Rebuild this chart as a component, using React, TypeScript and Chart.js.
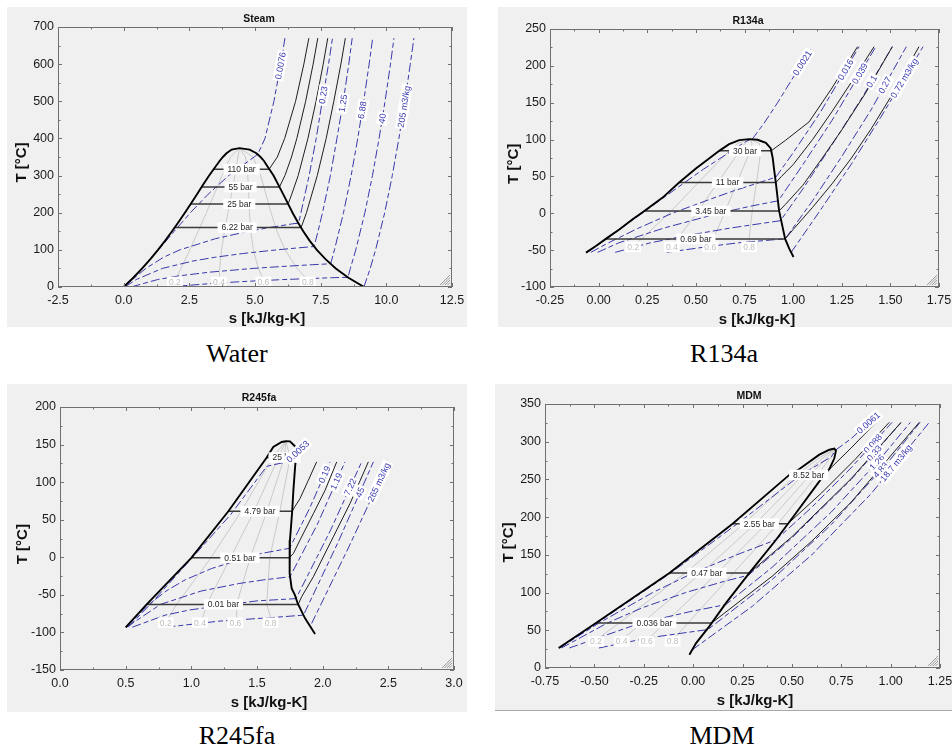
import React, { useEffect, useRef } from 'react';
import { Chart, registerables } from 'chart.js';

Chart.register(...registerables);

type Pt = [number, number];

const FONT = '"Liberation Sans", Arial, Helvetica, sans-serif';

/* ================= Steam (Water) ================= */
const steamDome: Pt[] = [
  [0, 0.01], [0.367, 25], [0.704, 50], [1.016, 75], [1.307, 100], [1.581, 125], [1.842, 150],
  [2.091, 175], [2.331, 200], [2.564, 225], [2.793, 250], [3.021, 275], [3.255, 300], [3.508, 325],
  [3.659, 340], [3.778, 350], [3.915, 360], [4.111, 370], [4.407, 373.95], [4.797, 370], [5.053, 360],
  [5.211, 350], [5.336, 340], [5.471, 325], [5.705, 300], [5.891, 275], [6.072, 250], [6.25, 225],
  [6.43, 200], [6.624, 175], [6.837, 150], [7.078, 125], [7.354, 100], [7.684, 75], [8.075, 50],
  [8.557, 25], [9.155, 0.01],
];
const steamSatT = [317, 269, 223.5, 160];
const steamSatLiq = [3.433, 2.969, 2.548, 1.94];
const steamSatVap = [5.537, 5.93, 6.262, 6.756];
const steamSatText = ['110 bar', '55 bar', '25 bar', '6.22 bar'];
const steamSatAt = [4.49, 4.45, 4.4, 4.32];
const steamP110: Pt[] = [[5.537, 317], [5.85, 350], [6.13, 400], [6.545, 500], [6.86, 600], [7.05, 670]];
const steamP55: Pt[] = [[5.93, 269], [6.138, 300], [6.39, 350], [6.593, 400], [6.928, 500], [7.213, 600], [7.39, 670]];
const steamP25: Pt[] = [[6.262, 223.5], [6.4, 250], [6.644, 300], [7.015, 400], [7.324, 500], [7.597, 600], [7.77, 670]];
const steamP622: Pt[] = [[6.756, 160], [6.96, 200], [7.37, 300], [7.71, 400], [8.0, 500], [8.27, 600], [8.44, 670]];
const steamV0076: Pt[] = [[0.0, 0.5], [0.708, 50], [1.33, 100], [1.925, 150], [2.54, 200], [3.22, 250], [4.0, 300], [4.966, 350], [5.1, 357.5], [5.22, 375], [5.38, 400], [5.72, 500], [5.98, 600], [6.14, 670]];
const steamV023: Pt[] = [[0.0, 0.5], [0.844, 50], [1.516, 80], [2.14, 100], [3.49, 130], [4.76, 150], [5.54, 160], [6.42, 170], [6.66, 172], [6.75, 200], [7.06, 300], [7.33, 400], [7.56, 500], [7.8, 600], [7.95, 670]];
const steamV125: Pt[] = [[0.056, 0.5], [0.477, 20], [1.47, 50], [2.64, 70], [3.47, 80], [4.52, 90], [5.83, 100], [6.59, 105], [7.25, 109], [7.4, 150], [7.57, 200], [7.87, 300], [8.12, 400], [8.36, 500], [8.57, 600], [8.7, 670]];
const steamV688: Pt[] = [[0.3, 0.5], [1.29, 20], [2.11, 30], [3.28, 40], [4.92, 50], [5.98, 55], [7.18, 60], [7.88, 62.5], [8.025, 100], [8.37, 200], [8.66, 300], [8.912, 400], [9.138, 500], [9.345, 600], [9.48, 670]];
const steamV40: Pt[] = [[1.78, 0.5], [3.44, 10], [4.62, 15], [6.07, 20], [7.92, 25], [8.54, 26], [8.63, 50], [8.837, 100], [9.183, 200], [9.472, 300], [9.724, 400], [9.951, 500], [10.158, 600], [10.29, 670]];
const steamV205: Pt[] = [[9.15, 0.5], [9.386, 50], [9.592, 100], [9.938, 200], [10.226, 300], [10.479, 400], [10.705, 500], [10.912, 600], [11.05, 670]];
const steamVolText = ['0.0076', '0.23', '1.25', '6.88', '40', '205 m3/kg'];
const steamVolAt: Pt[] = [[6.02, 595], [7.67, 516], [8.39, 494], [9.13, 476], [9.9, 453], [10.72, 485]];
const steamQ2: Pt[] = [[1.924, 13.5], [2.178, 50], [2.516, 100], [2.841, 150], [3.151, 200], [3.449, 250], [3.745, 300], [4.065, 350], [4.407, 373.95]];
const steamQ4: Pt[] = [[3.646, 13.5], [3.652, 50], [3.726, 100], [3.84, 150], [3.971, 200], [4.105, 250], [4.235, 300], [4.351, 350], [4.407, 373.95]];
const steamQ6: Pt[] = [[5.367, 13.5], [5.127, 50], [4.935, 100], [4.839, 150], [4.79, 200], [4.76, 250], [4.725, 300], [4.638, 350], [4.407, 373.95]];
const steamQ8: Pt[] = [[7.089, 13.5], [6.601, 50], [6.145, 100], [5.838, 150], [5.61, 200], [5.416, 250], [5.215, 300], [4.924, 350], [4.407, 373.95]];
const steamQualText = ['0.2', '0.4', '0.6', '0.8'];
const steamQualAt: Pt[] = [[1.95, 13.5], [3.63, 13.5], [5.32, 13.5], [7.01, 13.5]];

/* ================= R134a ================= */
const r134Dome: Pt[] = [
  [-0.065, -53.4], [-0.014, -44.3], [0.046, -33], [0.106, -22], [0.175, -8], [0.235, 3.2], [0.329, 21.3],
  [0.414, 41.7], [0.5, 60.7], [0.568, 74.3], [0.62, 84.7], [0.671, 93.8], [0.723, 99.2], [0.774, 100.6],
  [0.817, 99.7], [0.86, 95.6], [0.885, 87.9], [0.895, 75], [0.902, 60], [0.911, 41.7], [0.928, 3.2],
  [0.959, -34.8], [0.98, -48], [1.002, -59.3],
];
const r134SatT = [84.7, 41.7, 3.2, -34.8];
const r134SatLiq = [0.62, 0.414, 0.235, 0.036];
const r134SatVap = [0.887, 0.911, 0.928, 0.959];
const r134SatText = ['30 bar', '11 bar', '3.45 bar', '0.69 bar'];
const r134SatAt = [0.753, 0.663, 0.577, 0.5];
const r134P30: Pt[] = [[0.887, 84.7], [0.962, 99.2], [1.082, 124], [1.2, 170], [1.331, 226]];
const r134P11: Pt[] = [[0.911, 41.7], [0.94, 50], [1.0, 66], [1.1, 100], [1.2, 138], [1.3, 178], [1.416, 226]];
const r134P345: Pt[] = [[0.928, 3.2], [0.96, 12], [1.05, 38], [1.15, 75], [1.25, 113], [1.37, 162], [1.51, 226]];
const r134P069: Pt[] = [[0.959, -34.8], [1.0, -22], [1.1, 8], [1.2, 40], [1.3, 75], [1.4, 114], [1.5, 157], [1.647, 226]];
const r134V0021: Pt[] = [[-0.058, -53], [0.05, -33], [0.24, 3.2], [0.433, 40], [0.54, 60], [0.657, 80], [0.713, 90], [0.762, 98], [0.79, 100.6], [0.85, 122], [0.92, 150], [0.99, 180], [1.05, 205], [1.09, 222]];
const r134V016: Pt[] = [[-0.04, -53], [0.051, -40], [0.206, -20], [0.378, 0], [0.583, 20], [0.69, 30], [0.807, 40], [0.911, 49], [1.0, 82], [1.14, 137], [1.339, 226]];
const r134V039: Pt[] = [[-0.005, -53], [0.104, -40], [0.336, -20], [0.618, 0], [0.788, 10], [0.924, 17], [1.05, 66], [1.2, 126], [1.425, 226]];
const r134V01: Pt[] = [[0.085, -53], [0.267, -40], [0.458, -30], [0.678, -20], [0.935, -10], [1.05, 33], [1.2, 93], [1.35, 155], [1.51, 226]];
const r134V027: Pt[] = [[0.35, -53], [0.568, -45], [0.72, -40], [0.959, -34.6], [1.1, 17], [1.25, 77], [1.4, 140], [1.582, 226]];
const r134V072: Pt[] = [[0.99, -53], [1.15, 8], [1.3, 67], [1.45, 130], [1.6, 196], [1.668, 226]];
const r134VolText = ['0.0021', '0.016', '0.039', '0.1', '0.27', '0.72 m3/kg'];
const r134VolAt: Pt[] = [[1.056, 202.5], [1.279, 193.4], [1.356, 187.5], [1.408, 178.4], [1.48, 172.6], [1.588, 180.7]];
const r134Q2: Pt[] = [[0.176, -45.7], [0.22, -35], [0.375, 3.5], [0.513, 42], [0.673, 85], [0.716, 95], [0.774, 100.6]];
const r134Q4: Pt[] = [[0.376, -45.7], [0.405, -35], [0.513, 3.5], [0.613, 42], [0.727, 85], [0.753, 95], [0.774, 100.6]];
const r134Q6: Pt[] = [[0.577, -45.7], [0.589, -35], [0.652, 3.5], [0.712, 42], [0.78, 85], [0.789, 95], [0.774, 100.6]];
const r134Q8: Pt[] = [[0.777, -45.7], [0.774, -35], [0.79, 3.5], [0.812, 42], [0.834, 85], [0.826, 95], [0.774, 100.6]];
const r134QualText = ['0.2', '0.4', '0.6', '0.8'];
const r134QualAt: Pt[] = [[0.178, -45.7], [0.377, -45.7], [0.574, -45.7], [0.774, -45.7]];

/* ================= R245fa ================= */
const r245Dome: Pt[] = [
  [0.5, -93.3], [0.66, -62.7], [1.0, -0.7], [1.282, 61.3], [1.574, 132.7], [1.624, 146.8], [1.688, 153.5],
  [1.72, 154.5], [1.751, 154.2], [1.789, 147.7], [1.797, 133.3], [1.79, 120], [1.777, 89], [1.768, 61.3],
  [1.751, 22.8], [1.746, 0.7], [1.751, -21.5], [1.764, -41.4], [1.789, -50.3], [1.81, -61.4], [1.866, -81.3],
  [1.942, -102.1],
];
const r245SatT = [132.7, 61.3, -0.7, -62.7];
const r245SatLiq = [1.574, 1.282, 1.0, 0.66];
const r245SatVap = [1.797, 1.768, 1.746, 1.814];
const r245SatText = ['25 bar', '4.79 bar', '0.51 bar', '0.01 bar'];
const r245SatAt = [1.71, 1.523, 1.37, 1.244];
const r245P479: Pt[] = [[1.768, 61.3], [1.787, 67], [1.827, 78], [1.891, 102.5], [1.954, 127]];
const r245P051: Pt[] = [[1.746, -0.7], [1.777, 5], [1.827, 22.8], [1.929, 58], [2.018, 89], [2.107, 127]];
const r245P001: Pt[] = [[1.814, -62.7], [1.84, -52.5], [1.929, -26], [2.081, 27.2], [2.208, 71.5], [2.348, 127]];
const r245V0053: Pt[] = [[0.52, -93], [0.69, -62], [1.01, 0], [1.3, 57], [1.574, 121], [1.726, 127], [1.88, 152]];
const r245V019: Pt[] = [[0.505, -93], [0.677, -62.7], [0.807, -45], [0.953, -30], [1.153, -15], [1.431, 0], [1.53, 5], [1.748, 12], [1.9, 65], [2.056, 127]];
const r245V119: Pt[] = [[0.508, -93], [0.765, -62.7], [1.073, -45], [1.36, -35], [1.552, -30], [1.751, -26], [1.96, 44], [2.17, 127]];
const r245V722: Pt[] = [[0.551, -93], [0.8, -77], [0.99, -70], [1.294, -62.7], [1.5, -58], [1.797, -55], [2.06, 36], [2.297, 127]];
const r245V45: Pt[] = [[0.81, -93], [1.21, -85], [1.63, -80], [1.854, -77], [2.12, 21], [2.386, 127]];
const r245V265: Pt[] = [[1.916, -88], [2.2, 14], [2.5, 127]];
const r245VolText = ['0.0053', '0.19', '1.19', '7.22', '45', '265 m3/kg'];
const r245VolAt: Pt[] = [[1.822, 138.9], [2.025, 109.2], [2.114, 100.3], [2.208, 93.7], [2.292, 85.7], [2.45, 98.2]];
const r245Q2: Pt[] = [[0.803, -87], [0.888, -62.7], [1.149, -0.7], [1.38, 61.3], [1.619, 132.7], [1.72, 154.5]];
const r245Q4: Pt[] = [[1.074, -87], [1.117, -62.7], [1.298, -0.7], [1.478, 61.3], [1.663, 132.7], [1.72, 154.5]];
const r245Q6: Pt[] = [[1.346, -87], [1.345, -62.7], [1.448, -0.7], [1.576, 61.3], [1.708, 132.7], [1.72, 154.5]];
const r245Q8: Pt[] = [[1.617, -87], [1.574, -62.7], [1.597, -0.7], [1.674, 61.3], [1.752, 132.7], [1.72, 154.5]];
const r245QualText = ['0.2', '0.4', '0.6', '0.8'];
const r245QualAt: Pt[] = [[0.805, -87], [1.066, -87], [1.335, -87], [1.604, -87]];

/* ================= MDM ================= */
const mdmDome: Pt[] = [
  [-0.681, 26.5], [-0.492, 59.7], [-0.12, 126], [0.2, 191.3], [0.487, 256], [0.538, 263.8], [0.639, 282.8],
  [0.69, 289.4], [0.715, 290.8], [0.723, 288], [0.715, 278], [0.69, 264], [0.664, 256], [0.639, 247.5],
  [0.521, 205.5], [0.42, 170], [0.285, 126], [0.166, 86], [0.082, 55.2], [0.015, 33], [-0.019, 17.7],
];
const mdmSatT = [256, 191.3, 126, 59.7];
const mdmSatLiq = [0.487, 0.2, -0.12, -0.492];
const mdmSatVap = [0.664, 0.48, 0.285, 0.094];
const mdmSatText = ['8.52 bar', '2.55 bar', '0.47 bar', '0.036 bar'];
const mdmSatAt = [0.585, 0.335, 0.069, -0.196];
const mdmP852: Pt[] = [[0.664, 256], [0.7, 266], [0.8, 291.7], [0.926, 325.7]];
const mdmP255: Pt[] = [[0.48, 191.3], [0.65, 232], [0.82, 276.5], [0.993, 325.7]];
const mdmP047: Pt[] = [[0.285, 126], [0.5, 174], [0.8, 251], [1.053, 325.7]];
const mdmP0036: Pt[] = [[0.094, 59.7], [0.4, 121.6], [0.6, 168], [0.8, 219.8], [1.145, 325.7]];
const mdmV0061: Pt[] = [[-0.675, 26.5], [-0.486, 59.7], [-0.113, 126], [0.224, 191.3], [0.545, 256], [0.7, 280], [0.722, 289], [0.8, 304], [0.887, 325], [0.93, 335]];
const mdmV088: Pt[] = [[-0.677, 26.5], [-0.476, 59.7], [-0.205, 100], [0.0, 126], [0.22, 150], [0.32, 160], [0.42, 170], [0.6, 212.9], [0.8, 265.4], [1.007, 325.7]];
const mdmV033: Pt[] = [[-0.667, 26.5], [-0.434, 59.7], [-0.256, 80], [-0.038, 100], [0.159, 115], [0.28, 123], [0.5, 172.4], [0.8, 249.8], [1.054, 325.7]];
const mdmV126: Pt[] = [[-0.627, 26.5], [-0.265, 59.7], [-0.011, 75], [0.165, 84], [0.4, 133.5], [0.7, 206.9], [0.95, 278.1], [1.1, 325.7]];
const mdmV483: Pt[] = [[-0.477, 26.5], [-0.225, 40], [0.075, 51], [0.4, 117.2], [0.7, 190.2], [1.0, 277], [1.149, 325.7]];
const mdmV187: Pt[] = [[-0.005, 24], [0.3, 81.9], [0.6, 149.8], [0.9, 230.7], [1.196, 325.7]];
const mdmVolText = ['0.0061', '0.088', '0.33', '1.26', '4.83', '18.7 m3/kg'];
const mdmVolAt: Pt[] = [[0.887, 325.2], [0.899, 300], [0.904, 288], [0.91, 278], [0.916, 270.5], [1.019, 273.6]];
const mdmQ2: Pt[] = [[-0.5, 35.3], [-0.375, 59.7], [-0.039, 126], [0.257, 191.3], [0.522, 256], [0.647, 280], [0.715, 290.8]];
const mdmQ4: Pt[] = [[-0.37, 35.3], [-0.259, 59.7], [0.042, 126], [0.315, 191.3], [0.558, 256], [0.665, 280], [0.715, 290.8]];
const mdmQ6: Pt[] = [[-0.239, 35.3], [-0.143, 59.7], [0.123, 126], [0.372, 191.3], [0.593, 256], [0.682, 280], [0.715, 290.8]];
const mdmQ8: Pt[] = [[-0.109, 35.3], [-0.026, 59.7], [0.204, 126], [0.43, 191.3], [0.629, 256], [0.7, 280], [0.715, 290.8]];
const mdmQualText = ['0.2', '0.4', '0.6', '0.8'];
const mdmQualAt: Pt[] = [[-0.492, 35.3], [-0.362, 35.3], [-0.235, 35.3], [-0.104, 35.3]];

/* ================= layout of panels ================= */
interface Panel {
  title: string; titleX: number; titleBase: number;
  xTitleX: number; xTitleBase: number; yTitleBaseX: number; yTitleY: number;
  caption: string; captionX: number; captionBase: number;
  box: number[]; plot: number[];
  x: number[]; y: number[];
  dome: Pt[];
  satT: number[]; satLiq: number[]; satVap: number[]; satText: string[]; satAt: number[];
  bars: Pt[][];
  vols: Pt[][]; volText: string[]; volAt: Pt[];
  quals: Pt[][]; qualText: string[]; qualAt: Pt[];
  bottomLine?: boolean;
}

const panels: Panel[] = [
  {
    title: 'Steam', titleX: 259, titleBase: 21.5, xTitleX: 267, xTitleBase: 322.8, yTitleBaseX: 26.1, yTitleY: 162.5,
    caption: 'Water', captionX: 237, captionBase: 363,
    box: [7, 7, 460, 320], plot: [58, 27, 452, 287],
    x: [-2.5, 12.5, 2.5, 1], y: [0, 700, 100],
    dome: steamDome, satT: steamSatT, satLiq: steamSatLiq, satVap: steamSatVap, satText: steamSatText, satAt: steamSatAt,
    bars: [steamP110, steamP55, steamP25, steamP622],
    vols: [steamV0076, steamV023, steamV125, steamV688, steamV40, steamV205], volText: steamVolText, volAt: steamVolAt,
    quals: [steamQ2, steamQ4, steamQ6, steamQ8], qualText: steamQualText, qualAt: steamQualAt,
  },
  {
    title: 'R134a', titleX: 748, titleBase: 24, xTitleX: 757, xTitleBase: 323.5, yTitleBaseX: 517.8, yTitleY: 163.8,
    caption: 'R134a', captionX: 724, captionBase: 363,
    box: [498, 7, 454, 320], plot: [550, 29, 939, 287],
    x: [-0.25, 1.75, 0.25, 2], y: [-100, 250, 50],
    dome: r134Dome, satT: r134SatT, satLiq: r134SatLiq, satVap: r134SatVap, satText: r134SatText, satAt: r134SatAt,
    bars: [r134P30, r134P11, r134P345, r134P069],
    vols: [r134V0021, r134V016, r134V039, r134V01, r134V027, r134V072], volText: r134VolText, volAt: r134VolAt,
    quals: [r134Q2, r134Q4, r134Q6, r134Q8], qualText: r134QualText, qualAt: r134QualAt,
  },
  {
    title: 'R245fa', titleX: 259, titleBase: 400.7, xTitleX: 269, xTitleBase: 706.8, yTitleBaseX: 26.8, yTitleY: 544.2,
    caption: 'R245fa', captionX: 237, captionBase: 745,
    box: [7, 384, 460, 328], plot: [60, 407, 454, 670],
    x: [0, 3, 0.5, 1], y: [-150, 200, 50],
    dome: r245Dome, satT: r245SatT, satLiq: r245SatLiq, satVap: r245SatVap, satText: r245SatText, satAt: r245SatAt,
    bars: [r245P479, r245P051, r245P001],
    vols: [r245V0053, r245V019, r245V119, r245V722, r245V45, r245V265], volText: r245VolText, volAt: r245VolAt,
    quals: [r245Q2, r245Q4, r245Q6, r245Q8], qualText: r245QualText, qualAt: r245QualAt,
  },
  {
    title: 'MDM', titleX: 749, titleBase: 399.3, xTitleX: 755, xTitleBase: 705.1, yTitleBaseX: 512.8, yTitleY: 542.5,
    caption: 'MDM', captionX: 722, captionBase: 745,
    box: [495, 384, 457, 326], plot: [545, 404, 940, 668],
    x: [-0.75, 1.25, 0.25, 2], y: [0, 350, 50],
    dome: mdmDome, satT: mdmSatT, satLiq: mdmSatLiq, satVap: mdmSatVap, satText: mdmSatText, satAt: mdmSatAt,
    bars: [mdmP852, mdmP255, mdmP047, mdmP0036],
    vols: [mdmV0061, mdmV088, mdmV033, mdmV126, mdmV483, mdmV187], volText: mdmVolText, volAt: mdmVolAt,
    quals: [mdmQ2, mdmQ4, mdmQ6, mdmQ8], qualText: mdmQualText, qualAt: mdmQualAt,
    bottomLine: true,
  },
];

/* ================= drawing helpers ================= */
function boxText(ctx: CanvasRenderingContext2D, text: string, x: number, y: number, angle: number, color: string, size: number, pad: number) {
  ctx.save();
  ctx.translate(x, y);
  ctx.rotate(angle);
  ctx.font = `${size}px ${FONT}`;
  const w = ctx.measureText(text).width;
  const h = size + 2;
  ctx.fillStyle = '#ffffff';
  ctx.fillRect(-w / 2 - pad, -h / 2, w + 2 * pad, h);
  ctx.fillStyle = color;
  ctx.textAlign = 'center';
  ctx.textBaseline = 'middle';
  ctx.fillText(text, 0, 0.5);
  ctx.restore();
}

function snap(xs: any, ys: any, pts: Pt[], at: Pt) {
  const px = xs.getPixelForValue(at[0]);
  const py = ys.getPixelForValue(at[1]);
  let best = { d: Infinity, x: px, y: py, a: 0 };
  for (let i = 0; i < pts.length - 1; i++) {
    const ax = xs.getPixelForValue(pts[i][0]);
    const ay = ys.getPixelForValue(pts[i][1]);
    const bx = xs.getPixelForValue(pts[i + 1][0]);
    const by = ys.getPixelForValue(pts[i + 1][1]);
    const dx = bx - ax;
    const dy = by - ay;
    const L = dx * dx + dy * dy;
    let t = L > 0 ? ((px - ax) * dx + (py - ay) * dy) / L : 0;
    t = Math.max(0, Math.min(1, t));
    const cx = ax + t * dx;
    const cy = ay + t * dy;
    const d = (cx - px) * (cx - px) + (cy - py) * (cy - py);
    if (d < best.d) {
      let a = Math.atan2(dy, dx);
      if (a > Math.PI / 2) a -= Math.PI;
      if (a < -Math.PI / 2) a += Math.PI;
      best = { d, x: cx, y: cy, a };
    }
  }
  return best;
}

function makeChart(canvas: HTMLCanvasElement, p: Panel) {
  const [bl, bt, bw, bh] = p.box;
  const [pl, pt, pr, pb] = p.plot;
  const toXY = (pts: Pt[]) => pts.map(([x, y]) => ({ x, y }));
  const datasets: any[] = [];
  datasets.push({ data: toXY(p.dome), borderColor: '#000000', borderWidth: 1.9 });
  p.satT.forEach((T, i) => {
    datasets.push({ data: [{ x: p.satLiq[i], y: T }, { x: p.satVap[i], y: T }], borderColor: '#3a3a3a', borderWidth: 1.5 });
  });
  p.bars.forEach((b) => datasets.push({ data: toXY(b), borderColor: '#1e1e1e', borderWidth: 1 }));
  p.vols.forEach((v) => datasets.push({ data: toXY(v), borderColor: '#3838aa', borderWidth: 1, borderDash: [9, 3, 5, 3] }));
  p.quals.forEach((q) => datasets.push({ data: toXY(q), borderColor: '#c9c9c9', borderWidth: 1 }));
  datasets.forEach((d) => Object.assign(d, { showLine: true, pointRadius: 0, pointHoverRadius: 0, fill: false, tension: 0 }));

  const overlay = {
    id: 'tsOverlay',
    afterDatasetsDraw(chart: any) {
      const ctx = chart.ctx;
      const xs = chart.scales.x;
      const ys = chart.scales.y;
      p.qualText.forEach((t, i) => {
        boxText(ctx, t, xs.getPixelForValue(p.qualAt[i][0]), ys.getPixelForValue(p.qualAt[i][1]), 0, '#bdbdbd', 8.5, 2);
      });
      p.satT.forEach((T, i) => {
        boxText(ctx, p.satText[i], xs.getPixelForValue(p.satAt[i]), ys.getPixelForValue(T), 0, '#262626', 8.5, 4);
      });
      p.volText.forEach((t, i) => {
        const s = snap(xs, ys, p.vols[i], p.volAt[i]);
        boxText(ctx, t, s.x, s.y, s.a, '#3b3bb0', 9, 1.5);
      });
    },
    afterDraw(chart: any) {
      const ctx = chart.ctx;
      const xs = chart.scales.x;
      const ys = chart.scales.y;
      const { left, top, right, bottom } = chart.chartArea;
      ctx.save();
      ctx.strokeStyle = '#707070';
      ctx.lineWidth = 1;
      ctx.strokeRect(left + 0.5, top + 0.5, right - left - 1, bottom - top - 1);
      ctx.beginPath();
      const [xmin, xmax, xstep] = p.x;
      const nx = Math.round((xmax - xmin) / (xstep / 2));
      for (let k = 0; k <= nx; k++) {
        const v = xmin + (k * xstep) / 2;
        const px = Math.round(xs.getPixelForValue(v)) + 0.5;
        const len = k % 2 === 0 ? 4 : 2.5;
        ctx.moveTo(px, bottom); ctx.lineTo(px, bottom - len);
        ctx.moveTo(px, top); ctx.lineTo(px, top + len);
      }
      const [ymin, ymax, ystep] = p.y;
      const ny = Math.round((ymax - ymin) / (ystep / 2));
      for (let k = 0; k <= ny; k++) {
        const v = ymin + (k * ystep) / 2;
        const py = Math.round(ys.getPixelForValue(v)) + 0.5;
        const len = k % 2 === 0 ? 4 : 2.5;
        ctx.moveTo(left, py); ctx.lineTo(left + len, py);
        ctx.moveTo(right, py); ctx.lineTo(right - len, py);
      }
      ctx.stroke();
      // resize grip
      ctx.beginPath();
      ctx.strokeStyle = '#9c9c9c';
      for (let k = 1; k <= 4; k++) {
        ctx.moveTo(right - 2 - 2.5 * k, bottom - 2);
        ctx.lineTo(right - 2, bottom - 2 - 2.5 * k);
      }
      ctx.stroke();
      // titles
      ctx.fillStyle = '#111111';
      ctx.textAlign = 'center';
      ctx.textBaseline = 'alphabetic';
      ctx.font = `bold 10.5px ${FONT}`;
      ctx.fillText(p.title, p.titleX - bl, p.titleBase - bt);
      ctx.font = `bold 15px ${FONT}`;
      ctx.fillText('s [kJ/kg-K]', p.xTitleX - bl, p.xTitleBase - bt);
      ctx.translate(p.yTitleBaseX - bl, p.yTitleY - bt);
      ctx.rotate(-Math.PI / 2);
      ctx.fillText('T [°C]', 0, 0);
      ctx.restore();
    },
  };

  return new Chart(canvas, {
    type: 'scatter',
    data: { datasets },
    options: {
      responsive: false,
      animation: false,
      events: [],
      layout: { padding: { left: 0, top: pt - bt, right: bl + bw - pr, bottom: 0 } },
      plugins: { legend: { display: false }, tooltip: { enabled: false }, title: { display: false } },
      scales: {
        x: {
          type: 'linear', min: p.x[0], max: p.x[1],
          grid: { display: false, drawTicks: false }, border: { display: false },
          ticks: {
            stepSize: p.x[2], autoSkip: false, maxRotation: 0, padding: 6, color: '#1a1a1a',
            font: { size: 12.5, family: FONT },
            callback: (v: any) => Number(v).toFixed(p.x[3]),
          },
          title: { display: false },
          afterFit: (s: any) => { s.height = bt + bh - pb; s.paddingLeft = 0; s.paddingRight = 0; },
        },
        y: {
          type: 'linear', min: p.y[0], max: p.y[1],
          grid: { display: false, drawTicks: false }, border: { display: false },
          ticks: {
            stepSize: p.y[2], autoSkip: false, padding: 4, color: '#1a1a1a',
            font: { size: 12.5, family: FONT },
            callback: (v: any) => String(Math.round(Number(v))),
          },
          title: { display: false },
          afterFit: (s: any) => { s.width = pl - bl; s.paddingTop = 0; s.paddingBottom = 0; },
        },
      },
    } as any,
    plugins: [overlay as any],
  });
}

function PanelView({ p }: { p: Panel }) {
  const ref = useRef<HTMLCanvasElement | null>(null);
  useEffect(() => {
    if (!ref.current) return;
    const chart = makeChart(ref.current, p);
    return () => chart.destroy();
  }, [p]);
  const [bl, bt, bw, bh] = p.box;
  return (
    <>
      <div
        style={{
          position: 'absolute', left: bl, top: bt, width: bw, height: bh, background: '#f0f0f0',
          borderBottom: p.bottomLine ? '1px solid #a9a9a9' : 'none',
        }}
      >
        <canvas ref={ref} width={bw} height={bh} style={{ display: 'block', width: bw, height: bh }} />
      </div>
      <div
        style={{
          position: 'absolute', left: p.captionX - 150, top: p.captionBase - 22, width: 300,
          textAlign: 'center', fontFamily: '"Liberation Serif", "Times New Roman", serif',
          fontSize: 26, lineHeight: '26px', color: '#000',
        }}
      >
        {p.caption}
      </div>
    </>
  );
}

export default function App() {
  return (
    <div style={{ position: 'absolute', left: 0, top: 0, width: 952, height: 749, background: '#ffffff' }}>
      {panels.map((p) => (
        <PanelView key={p.title} p={p} />
      ))}
    </div>
  );
}
